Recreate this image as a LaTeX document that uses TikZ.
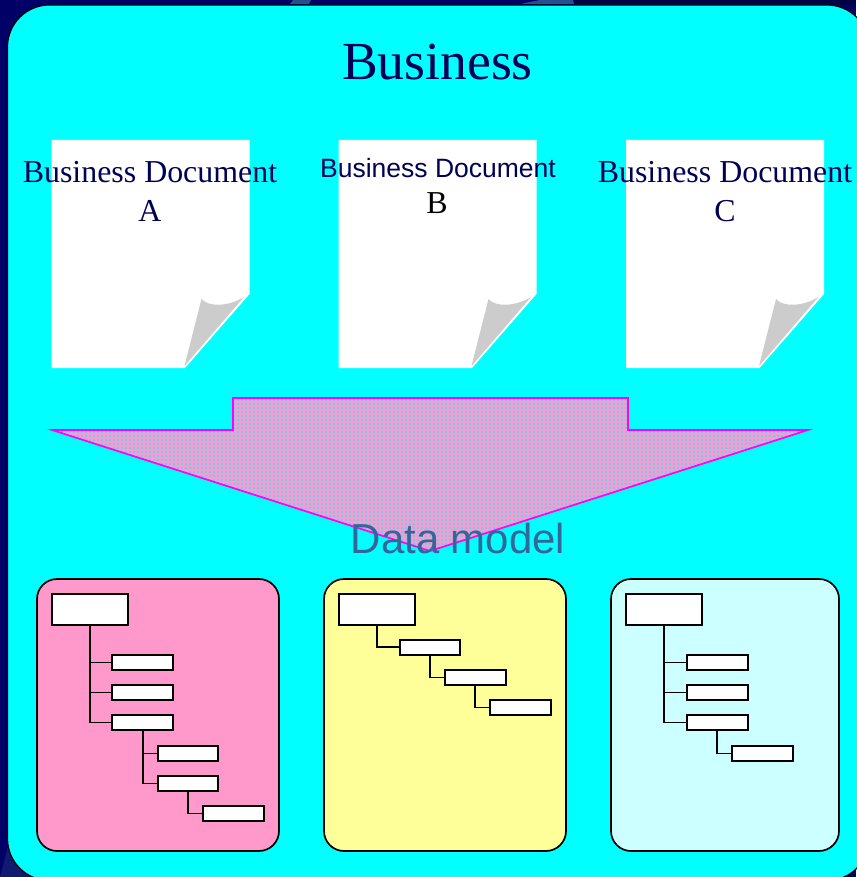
\documentclass[tikz,border=0pt]{standalone}
\usepackage{fontspec}
\setmainfont{Liberation Serif}
\newfontfamily\arialfont{Liberation Sans}
\definecolor{navybg}{HTML}{000066}
\definecolor{navydark}{HTML}{000044}
\definecolor{navysoft}{HTML}{101A70}
\definecolor{sliver}{HTML}{24508F}
\definecolor{navytext}{HTML}{000055}
\definecolor{panelcyan}{HTML}{00FFFF}
\definecolor{foldgrey}{HTML}{CCCCCC}
\definecolor{hatchbase}{HTML}{7CC4EC}
\definecolor{hatchpink}{HTML}{F0A0D0}
\definecolor{modeltext}{HTML}{336699}
\definecolor{outlinepink}{HTML}{FF00FF}
\definecolor{treepink}{HTML}{FF99CC}
\definecolor{treeyellow}{HTML}{FFFF99}
\definecolor{treecyan}{HTML}{CCFFFF}
\tikzset{
  x=1pt,y=-1pt,
  treepanel/.style={draw=black,line width=1.7pt,rounded corners=20pt},
  rootbox/.style={draw=black,fill=white,line width=2pt,minimum width=76pt,minimum height=31pt,inner sep=0pt},
  leafbox/.style={draw=black,fill=white,line width=2pt,minimum width=60.5pt,minimum height=15pt,inner sep=0pt},
  link/.style={draw=black,line width=1.9pt},
  doctext/.style={anchor=base,inner sep=0pt,text=navytext,font=\fontsize{31.9}{31.9}\selectfont},
  docsans/.style={anchor=base,inner sep=0pt,text=navytext,font=\arialfont\fontsize{26.5}{26.5}\selectfont},
}
\begin{document}
\begin{tikzpicture}
\useasboundingbox (0,0) rectangle (856,877);
\fill[navybg] (0,0) rectangle (856,877);
\fill[navydark] (573,0) rectangle (856,5);
\fill[sliver] (293,0) -- (311,0) -- (309,4) -- (290,4) -- cycle;
\fill[sliver] (525,3) -- (540,0) -- (573,0) -- (574,4) -- (522,4) -- cycle;
\fill[navysoft] (0,877) -- (10,838) -- (33,877) -- cycle;
% main panel
\draw[fill=panelcyan,draw=black,line width=1.2pt,rounded corners=42pt] (7.5,5) rectangle (869,880.6);
\node[anchor=base,inner sep=0pt,text=navytext,font=\fontsize{53.6}{53.6}\selectfont] (title) at (437.5,80) {Business};
% documents
\foreach \dx in {0,287,574.5}{
  \begin{scope}[xshift=\dx pt]
    \fill[white] (51.5,140) -- (249.5,140) -- (249.5,294) -- (185,368) -- (51.5,368) -- cycle;
    \fill[foldgrey] (184.5,366) -- (201.5,299) .. controls (208,307) and (228,307) .. (244,297) -- cycle;
  \end{scope}
}
\node[doctext] (docA) at (150,183) {Business Document};
\node[doctext] (docAl) at (150,222) {A};
\node[docsans] (docB) at (438,178) {Business Document};
\node[doctext,text=black] (docBl) at (437,214) {B};
\node[doctext] (docC) at (725,183) {Business Document};
\node[doctext] (docCl) at (725,222) {C};
% big arrow
\begin{scope}
  \clip (52,430) -- (233,430) -- (233,398) -- (628,398) -- (628,430) -- (808,430) -- (430,551) -- cycle;
  \fill[hatchbase] (52,398) rectangle (808,551);
  \foreach \k in {0,...,189}{
    \draw[hatchpink,line width=1.3pt] (52+\k*4,398) -- (52+\k*4,551);
  }
  \foreach \k in {0,...,38}{
    \draw[hatchpink,line width=1.3pt] (52,398+\k*4) -- (808,398+\k*4);
  }
\end{scope}
\draw[draw=outlinepink,line width=1.7pt,line join=miter] (52,430) -- (233,430) -- (233,398) -- (628,398) -- (628,430) -- (808,430) -- (430,551) -- cycle;
\node[anchor=base,inner sep=0pt,text=modeltext,font=\arialfont\fontsize{41.9}{41.9}\selectfont] (model) at (458,553) {Data model};
% panels
\draw[treepanel,fill=treepink] (37,579) rectangle (279,851);
\draw[treepanel,fill=treeyellow] (324,579) rectangle (566,851);
\draw[treepanel,fill=treecyan] (611,579) rectangle (839,851);
% pink tree
\node[rootbox] (pr) at (90,609.5) {};
\node[leafbox] (pa) at (142.7,662.5) {};
\node[leafbox] (pb) at (142.7,692.5) {};
\node[leafbox] (pc) at (142.7,722.5) {};
\node[leafbox] (pd) at (188.2,753.5) {};
\node[leafbox] (pe) at (188.2,783.5) {};
\node[leafbox] (pf) at (233.7,813.5) {};
\draw[link] (pr.south) |- (pa.west);
\draw[link] (pr.south) |- (pb.west);
\draw[link] (pr.south) |- (pc.west);
\draw[link] (pc.south) |- (pd.west);
\draw[link] (pc.south) |- (pe.west);
\draw[link] (pe.south) |- (pf.west);
% yellow tree
\node[rootbox] (yr) at (377,609.5) {};
\node[leafbox] (ya) at (430,647) {};
\node[leafbox] (yb) at (475.3,677.5) {};
\node[leafbox] (yc) at (520.6,707.5) {};
\draw[link] (yr.south) |- (ya.west);
\draw[link] (ya.south) |- (yb.west);
\draw[link] (yb.south) |- (yc.west);
% cyan tree
\node[rootbox] (cr) at (664,609.5) {};
\node[leafbox] (ca) at (717.3,662.5) {};
\node[leafbox] (cb) at (717.3,692.5) {};
\node[leafbox] (cc) at (717.3,722.5) {};
\node[leafbox] (cd) at (762.6,753.5) {};
\draw[link] (cr.south) |- (ca.west);
\draw[link] (cr.south) |- (cb.west);
\draw[link] (cr.south) |- (cc.west);
\draw[link] (cc.south) |- (cd.west);
\end{tikzpicture}
\end{document}
